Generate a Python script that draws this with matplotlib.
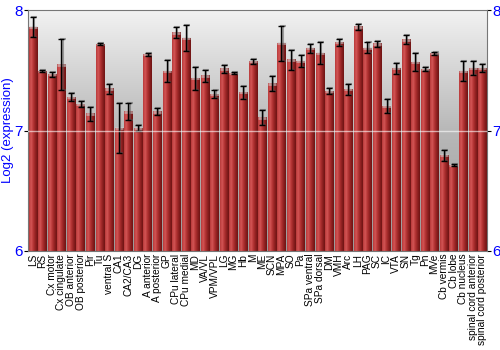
import numpy as np
import matplotlib
matplotlib.use("Agg")
import matplotlib.pyplot as plt
from matplotlib.colors import LinearSegmentedColormap

plt.rcParams["font.family"] = ["Liberation Sans", "DejaVu Sans"]

regions = ["LS", "RS", "Cx motor", "Cx cingulate", "OB anterior", "OB posterior",
           "Pir", "Tu", "ventral S", "CA1", "CA2/CA3", "DG", "A anterior",
           "A posterior", "GP", "CPu lateral", "CPu medial", "MD", "VA/VL",
           "VPM/VPL", "LG", "MG", "Hb", "M", "ME", "SCN", "MPA", "SO", "Pa",
           "SPa ventral", "SPa dorsal", "DM", "VMH", "Arc", "LH", "PAG", "SC",
           "IC", "VTA", "SN", "Tg", "Pn", "MVe", "Cb vermis", "Cb lobe",
           "Cb nucleus", "spinal cord anterior", "spinal cord posterior"]

expression = [7.86, 7.494, 7.467, 7.547, 7.278, 7.219, 7.139, 7.717, 7.347, 7.02,
              7.158, 7.02, 7.633, 7.158, 7.494, 7.814, 7.767, 7.433, 7.456, 7.303,
              7.514, 7.478, 7.317, 7.575, 7.106, 7.389, 7.725, 7.589, 7.575, 7.683,
              7.644, 7.328, 7.733, 7.342, 7.861, 7.686, 7.722, 7.203, 7.519, 7.756,
              7.569, 7.511, 7.642, 6.794, 6.714, 7.494, 7.519, 7.519]

error = [0.08, 0.005, 0.02, 0.21, 0.036, 0.026, 0.058, 0.01, 0.04, 0.21,
         0.07, 0.027, 0.014, 0.03, 0.094, 0.047, 0.11, 0.094, 0.05, 0.03,
         0.033, 0.01, 0.055, 0.02, 0.064, 0.062, 0.147, 0.082, 0.05, 0.036,
         0.088, 0.028, 0.03, 0.046, 0.022, 0.046, 0.024, 0.056, 0.046, 0.04,
         0.076, 0.017, 0.011, 0.044, 0.005, 0.08, 0.057, 0.035]

blue = "#0000ff"

fig = plt.figure(figsize=(5, 3.5), dpi=100)
ax = fig.add_axes([0.056, 0.283, 0.918, 0.688])

x = np.arange(len(regions))
ax.set_xlim(-0.5, len(regions) - 0.5)
ax.set_ylim(6, 8)

# background gradient, light at top
bg = LinearSegmentedColormap.from_list("bg", ["#9a9a9a", "#b8b8b8", "#f2f2f2"])
ax.imshow(np.linspace(0, 1, 256).reshape(-1, 1), cmap=bg, aspect="auto",
          extent=(-0.5, len(regions) - 0.5, 6, 8), origin="lower", zorder=0)

bars = ax.bar(x, np.array(expression) - 6, bottom=6, width=0.86,
              color="none", edgecolor="none", zorder=2)

# red cylinder-like shading on each bar
red = LinearSegmentedColormap.from_list("red", ["#b83a3a", "#d45656", "#b33333", "#8e2020", "#6e1414"])
shade = np.linspace(0, 1, 64).reshape(1, -1)
for b in bars:
    x0, w, h = b.get_x(), b.get_width(), b.get_height()
    ax.imshow(shade, cmap=red, aspect="auto", extent=(x0, x0 + w, 6, 6 + h),
              zorder=2)
    ax.plot([x0, x0 + w], [6 + h, 6 + h], color="#cccccc", lw=2, alpha=0.6,
            zorder=2.5, solid_capstyle="butt")

ax.errorbar(x + 0.12, expression, yerr=error, fmt="none", ecolor="#555555",
            elinewidth=1.5, capsize=2.5, capthick=1.5, alpha=0.5, zorder=3)
ax.errorbar(x, expression, yerr=error, fmt="none", ecolor="black",
            elinewidth=1, capsize=2.5, capthick=1, zorder=4)

ax.axhline(7, color="white", lw=1, alpha=0.6, zorder=5)

ax.set_xticks(x)
ax.set_xticklabels(regions, rotation=90, fontsize=7.3)
ax.tick_params(axis="x", length=0, pad=2)

ax.set_yticks([6, 7, 8])
ax.tick_params(axis="y", which="both", direction="out", length=3,
               labelsize=11, labelcolor=blue, left=True, right=True,
               labelleft=True, labelright=True, pad=1)
ax.set_ylabel("Log2 (expression)", color=blue, fontsize=9.5, labelpad=0)

for s in ax.spines.values():
    s.set_color("#777777")

fig.savefig("out.png", dpi=100)
